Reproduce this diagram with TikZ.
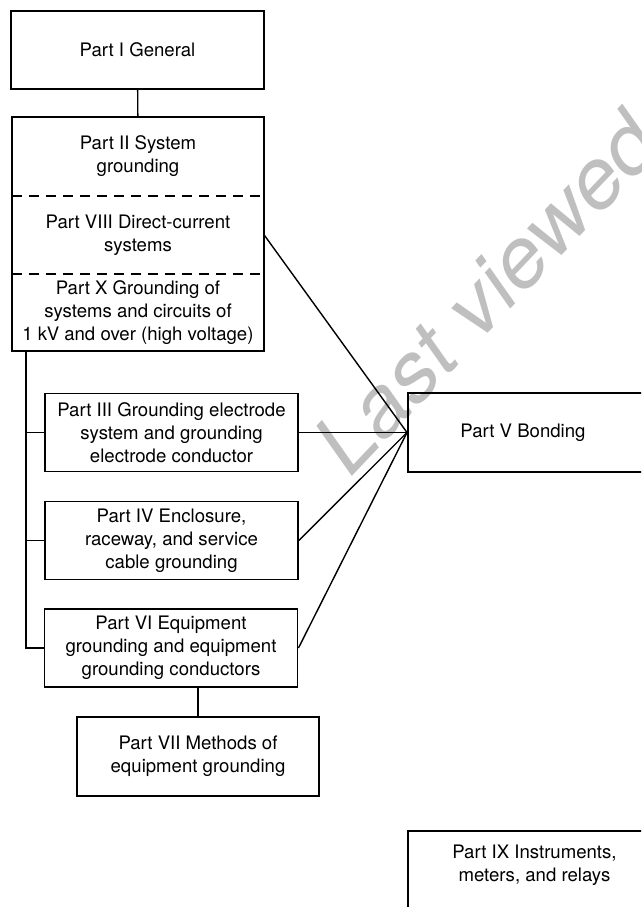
\documentclass[tikz,border=0pt]{standalone}
\usepackage{fontspec}
\setmainfont{TeX Gyre Heros}

\begin{document}
\begin{tikzpicture}[x=1pt, y=-1pt,
  part/.style={draw, line width=1.9pt, minimum width=253pt, minimum height=78pt,
    inner sep=0pt, align=center, font=\fontsize{18.6}{23}\selectfont},
  sect/.style={minimum width=252pt, inner sep=0pt, align=center,
    font=\fontsize{18.6}{23}\selectfont},
  split/.style={draw, line width=1.5pt, dash pattern=on 10pt off 7pt},
  link/.style={draw, line width=1.4pt}]
\useasboundingbox (0,0) rectangle (641,907);
\clip (0,0) rectangle (641,907);
\node[font=\fontsize{87}{87}\selectfont, text=black!25, inner sep=0pt, anchor=base west,
  rotate=46.5, xslant=0.2, yscale=0.95] (wm) at (347,482) {Last viewed};
\node[part] (1) at (137.5,50) {Part I General};
\node[sect, minimum height=79pt] (2) at (138,156.5) {Part II System\\grounding};
\node[sect, minimum height=78pt] (8) at (138,235) {Part VIII Direct-current\\systems};
\node[sect, minimum height=77pt] (10) at (138,312.5) {Part X Grounding of\\systems and circuits of\\1 kV and over (high voltage)};
\node[part] (3) at (171.5,432.5) {Part III Grounding electrode\\system and grounding\\electrode conductor};
\node[part] (4) at (171.5,540.5) {Part IV Enclosure,\\raceway, and service\\cable grounding};
\node[part] (6) at (171,648) {Part VI Equipment\\grounding and equipment\\grounding conductors};
\node[part, minimum width=242pt, minimum height=79pt] (7) at (198,756.5) {Part VII Methods of\\equipment grounding};
\node[part, anchor=west, minimum height=79pt] (5) at (407,432.5) {Part V Bonding\hspace*{23pt}};
\node[part, anchor=north west, minimum height=79pt] (9) at (407,830) {Part IX Instruments,\\meters, and relays\\[-8pt]\mbox{}};
\path[draw, line width=1.9pt] (2.north west) rectangle (10.south east);
\path[split] (2.south west) -- (2.south east);
\path[split] (8.south west) -- (8.south east);
\coordinate (t) at ([xshift=14pt]10.south west);
\path[link] (1) -- (2);
\path[link] (t) |- (6.west);
\path[link] (t |- 3.west) -- (3.west);
\path[link] (t |- 4.west) -- (4.west);
\path[link] (7.north) -- (7.north |- 6.south);
\path[link] (8.east) -- (5.west);
\path[link] (3.east) -- (5.west);
\path[link] (4.east) -- (5.west);
\path[link] (6.east) -- (5.west);
\end{tikzpicture}
\end{document}
